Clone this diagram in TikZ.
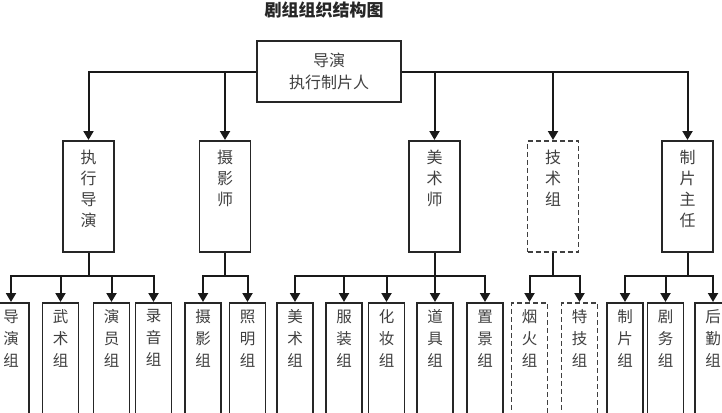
\documentclass[tikz,border=0pt]{standalone}
\usepackage{fontspec}
\setmainfont{Noto Sans CJK SC}
\usetikzlibrary{arrows.meta}
\tikzset{
  box/.style={draw=black!85, line width=1.5pt, inner sep=0pt, fill=white},
  dbox/.style={box, draw=black!75, line width=1.6pt, dash pattern=on 5pt off 3pt},
  two/.style={anchor=north, minimum width=51pt, minimum height=111pt},
  three/.style={anchor=north, minimum width=36pt, minimum height=130pt},
  lbltwo/.style={anchor=north, yshift=-10pt, align=center, inner sep=0pt, text=black!75,
    font=\fontsize{16pt}{21pt}\selectfont},
  lblthree/.style={anchor=north, yshift=-7.5pt, align=center, inner sep=0pt, text=black!75,
    font=\fontsize{15.5pt}{22pt}\selectfont},
  ln/.style={line width=2pt, draw=black!90},
  arr/.style={ln, -{Triangle[length=9pt,width=10pt]}},
}
\begin{document}
\begin{tikzpicture}[x=1pt,y=-1pt]
\useasboundingbox (0,0) rectangle (722,412);
\clip (0,0) rectangle (722,412);
\fill[white] (0,0) rectangle (722,412);
\node[font=\fontsize{17pt}{20pt}\selectfont\bfseries, text=black!85] (title) at (324,10) {剧组组织结构图};
\node[box, minimum width=144pt, minimum height=61pt, align=center, text=black!75,
  font=\fontsize{16pt}{22pt}\selectfont] (top) at (329,71.5) {导演\\执行制片人};
% level two
\node[box,two,label={[lbltwo]north:执\\行\\导\\演}] (A) at (88.5,140) {};
\node[box,two,label={[lbltwo]north:摄\\影\\师}] (B) at (225,140) {};
\node[box,two,label={[lbltwo]north:美\\术\\师}] (C) at (434.5,140) {};
\node[dbox,two,label={[lbltwo]north:技\\术\\组}] (D) at (553,140) {};
\node[box,two,label={[lbltwo]north:制\\片\\主\\任}] (E) at (687.5,140) {};
% level three
\node[box,three,label={[lblthree]north:导\\演\\组}] (a1) at (11,302) {};
\node[box,three,label={[lblthree]north:武\\术\\组}] (a2) at (60.5,302) {};
\node[box,three,label={[lblthree]north:演\\员\\组}] (a3) at (111.5,302) {};
\node[box,three,label={[lblthree]north:录\\音\\组}] (a4) at (153.5,302) {};
\node[box,three,label={[lblthree]north:摄\\影\\组}] (b1) at (203,302) {};
\node[box,three,label={[lblthree]north:照\\明\\组}] (b2) at (247.5,302) {};
\node[box,three,label={[lblthree]north:美\\术\\组}] (c1) at (295,302) {};
\node[box,three,label={[lblthree]north:服\\装\\组}] (c2) at (344,302) {};
\node[box,three,label={[lblthree]north:化\\妆\\组}] (c3) at (386.5,302) {};
\node[box,three,label={[lblthree]north:道\\具\\组}] (c4) at (435,302) {};
\node[box,three,label={[lblthree]north:置\\景\\组}] (c5) at (485,302) {};
\node[dbox,three,label={[lblthree]north:烟\\火\\组}] (d1) at (529.5,302) {};
\node[dbox,three,label={[lblthree]north:特\\技\\组}] (d2) at (579.5,302) {};
\node[box,three,label={[lblthree]north:制\\片\\组}] (e1) at (625,302) {};
\node[box,three,label={[lblthree]north:剧\\务\\组}] (e2) at (665.5,302) {};
\node[box,three,label={[lblthree]north:后\\勤\\组}] (e3) at (713,302) {};
% top connectors
\draw[arr] (top.west) -| (A.north);
\draw[arr] (top.west -| B.north) -- (B.north);
\draw[arr] (top.east) -| (E.north);
\draw[arr] (top.east -| C.north) -- (C.north);
\draw[arr] (top.east -| D.north) -- (D.north);
% buses
\coordinate (busA) at (88.5,276);
\coordinate (busB) at (225,276);
\coordinate (busC) at (434.5,276);
\coordinate (busD) at (553,276);
\coordinate (busE) at (687.5,276);
\draw[ln] (A.south) -- (busA);
\draw[ln] (B.south) -- (busB);
\draw[ln] (C.south) -- (busC);
\draw[ln] (D.south) -- (busD);
\draw[ln] (E.south) -- (busE);
\draw[arr] (busA) -| (a1.north);
\draw[arr] (busA) -| (a4.north);
\draw[arr] (busA -| a2.north) -- (a2.north);
\draw[arr] (busA -| a3.north) -- (a3.north);
\draw[arr] (busB) -| (b1.north);
\draw[arr] (busB) -| (b2.north);
\draw[arr] (busC) -| (c1.north);
\draw[arr] (busC) -| (c5.north);
\draw[arr] (busC -| c2.north) -- (c2.north);
\draw[arr] (busC -| c3.north) -- (c3.north);
\draw[arr] (busC -| c4.north) -- (c4.north);
\draw[arr] (busD) -| (d1.north);
\draw[arr] (busD) -| (d2.north);
\draw[arr] (busE) -| (e1.north);
\draw[arr] (busE) -| (e3.north);
\draw[arr] (busE -| e2.north) -- (e2.north);
\end{tikzpicture}
\end{document}
